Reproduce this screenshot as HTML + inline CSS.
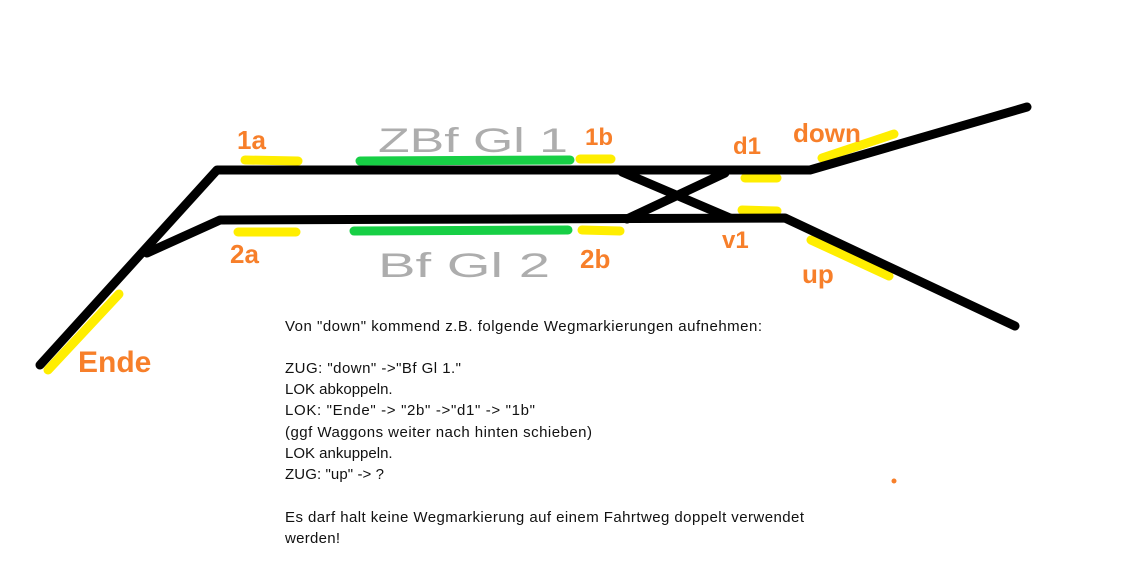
<!DOCTYPE html>
<html><head><meta charset="utf-8"><style>
html,body{margin:0;padding:0;background:#fff;}
svg{display:block}
</style></head><body>
<svg width="1124" height="564" viewBox="0 0 1124 564" xmlns="http://www.w3.org/2000/svg">
<rect width="1124" height="564" fill="#fff"/>
<g stroke-linecap="round" fill="none">
<g stroke="#ffee00" stroke-width="9">
<line x1="245" y1="160" x2="298" y2="161"/>
<line x1="238" y1="232" x2="296" y2="232"/>
<line x1="580" y1="159" x2="611" y2="159"/>
<line x1="582" y1="230" x2="620" y2="231"/>
<line x1="745" y1="178" x2="777" y2="178"/>
<line x1="742" y1="210" x2="777" y2="211"/>
<line x1="822" y1="158" x2="894" y2="134"/>
<line x1="811" y1="240" x2="889" y2="276"/>
<line x1="48" y1="370" x2="119" y2="294"/>
</g>
<g stroke="#17cf45" stroke-width="9">
<line x1="360" y1="161" x2="570" y2="160"/>
<line x1="354" y1="231" x2="568" y2="230"/>
</g>
<g stroke="#000" stroke-width="9" stroke-linejoin="round">
<polyline points="40,365 217,170 810,170 1027,107"/>
<polyline points="147,253 220,220 785,218 1015,326"/>
<line x1="622" y1="172" x2="730" y2="218"/>
<line x1="627" y1="219" x2="725" y2="173"/>
</g>
</g>
<g font-family="Liberation Sans, sans-serif" fill="#999" font-size="34" opacity="0.8">
<text x="378" y="152" textLength="190" lengthAdjust="spacingAndGlyphs">ZBf Gl 1</text>
<text x="378" y="277" textLength="172" lengthAdjust="spacingAndGlyphs">Bf Gl 2</text>
</g>
<g font-family="Liberation Sans, sans-serif" fill="#f77f2a" font-weight="bold">
<text x="237" y="149" font-size="26">1a</text>
<text x="230" y="263" font-size="26">2a</text>
<text x="585" y="145" font-size="24">1b</text>
<text x="580" y="268" font-size="26">2b</text>
<text x="733" y="154" font-size="24">d1</text>
<text x="722" y="248" font-size="24">v1</text>
<text x="793" y="142" font-size="26">down</text>
<text x="802" y="283" font-size="26">up</text>
<text x="78" y="372" font-size="30">Ende</text>
</g>
<circle cx="894" cy="481" r="2.5" fill="#f77f2a"/>
<g font-family="Liberation Sans, sans-serif" font-size="15" fill="#111">
<text x="285" y="331" textLength="477" lengthAdjust="spacing">Von "down" kommend z.B. folgende Wegmarkierungen aufnehmen:</text>
<text x="285" y="373" textLength="176" lengthAdjust="spacing">ZUG: "down" -&gt;"Bf Gl 1."</text>
<text x="285" y="394">LOK abkoppeln.</text>
<text x="285" y="415" textLength="250" lengthAdjust="spacing">LOK: "Ende" -&gt; "2b" -&gt;"d1" -&gt; "1b"</text>
<text x="285" y="437" textLength="307" lengthAdjust="spacing">(ggf Waggons weiter nach hinten schieben)</text>
<text x="285" y="458">LOK ankuppeln.</text>
<text x="285" y="479" textLength="99" lengthAdjust="spacing">ZUG: "up" -&gt; ?</text>
<text x="285" y="522" textLength="519" lengthAdjust="spacing">Es darf halt keine Wegmarkierung auf einem Fahrtweg doppelt verwendet</text>
<text x="285" y="543" textLength="55" lengthAdjust="spacing">werden!</text>
</g>
</svg>
</body></html>
